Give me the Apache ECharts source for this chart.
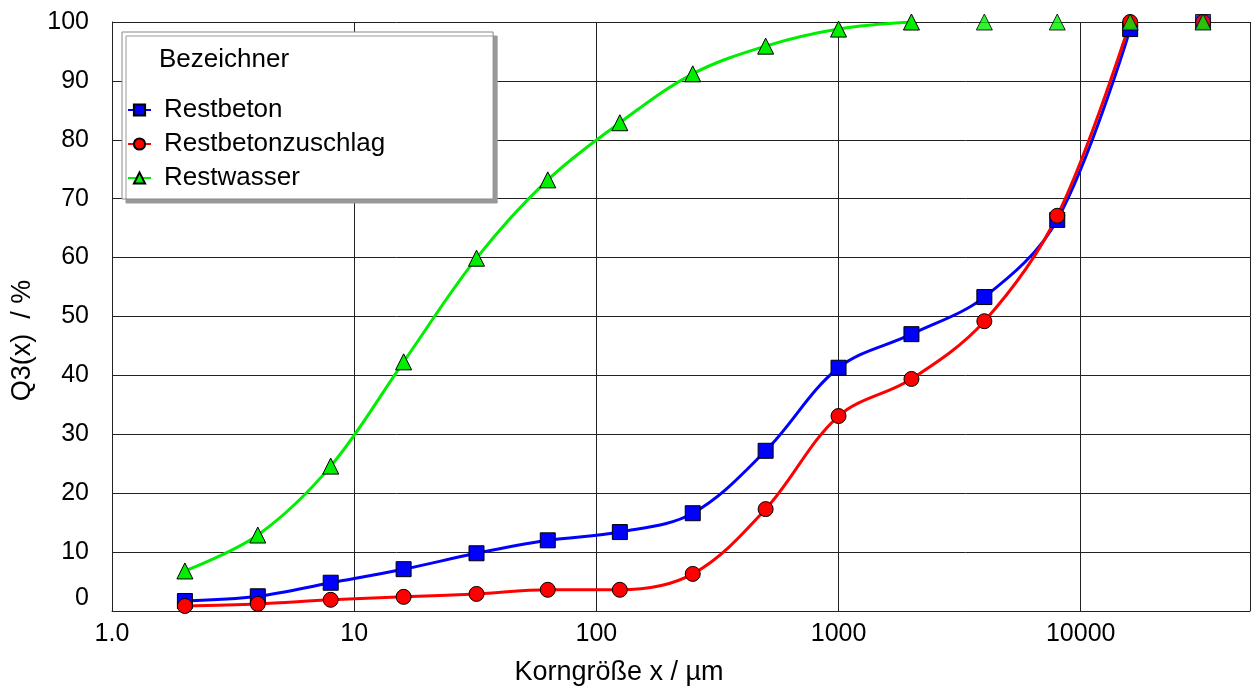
<!DOCTYPE html>
<html>
<head>
<meta charset="utf-8">
<script src="https://cdn.jsdelivr.net/npm/echarts@6/dist/echarts.min.js"></script>
<style>
  html, body { margin: 0; padding: 0; background: #fff; }
  #chart1 { width: 1252px; height: 686px; }
</style>
</head>
<body>
<div id="chart1"></div>
<script>
// Korngröße in µm (Siebstufen)
const korngroesse = [2, 4, 8, 16, 32, 63, 125, 250, 500, 1000, 2000, 4000, 8000, 16000, 32000];
const restbeton = [1.7, 2.5, 4.8, 7.1, 9.8, 12.0, 13.4, 16.6, 27.2, 41.3, 47.0, 53.3, 66.4, 98.8, 100];
const restbetonzuschlag = [0.85, 1.2, 1.9, 2.4, 2.9, 3.6, 3.6, 6.3, 17.3, 33.1, 39.4, 49.2, 67.1, 100, 100];
const restwasser = [6.8, 12.9, 24.6, 42.3, 59.9, 73.2, 82.9, 91.2, 95.9, 98.8, 100, 100, 100, 100, 100];
const yTicks = [0, 10, 20, 30, 40, 50, 60, 70, 80, 90, 100];

// letzter Index, bis zu dem die Linie gezeichnet wird
const lineEnd = { Restbeton: 13, Restbetonzuschlag: 13, Restwasser: 10 };

const chartDom = document.getElementById('chart1');
const myChart = echarts.init(chartDom);

const FONT = '"Liberation Sans", Arial, sans-serif';

const defs = [
    { name: 'Restbeton', values: restbeton, color: '#0000ff', symbol: 'rect', size: 15 },
    { name: 'Restbetonzuschlag', values: restbetonzuschlag, color: '#ff0000', symbol: 'circle', size: 15 },
    { name: 'Restwasser', values: restwasser, color: '#00ee00', symbol: 'triangle', size: 16 }
];

const series = [];
defs.forEach(d => {
    const pts = korngroesse.map((x, i) => [x, d.values[i]]);
    const end = lineEnd[d.name];
    const marker = {
        color: d.color,
        borderColor: '#000',
        borderWidth: 1
    };
    series.push({
        name: d.name,
        type: 'line',
        data: pts.slice(0, end + 1),
        smooth: 0.35,
        symbol: d.symbol,
        symbolSize: d.size,
        showAllSymbol: true,
        lineStyle: { color: d.color, width: 3 },
        itemStyle: marker,
        z: 3
    });
    // restliche Punkte ohne Verbindungslinie
    series.push({
        name: d.name,
        type: 'scatter',
        data: pts.slice(end + 1),
        symbol: d.symbol,
        symbolSize: d.size,
        itemStyle: marker,
        z: 3
    });
});

const option = {
    backgroundColor: '#fff',
    animation: false,
    grid: { left: 112, right: 2, top: 22, bottom: 75, outerBoundsMode: 'none' },
    xAxis: {
        type: 'log',
        logBase: 10,
        min: 1,
        max: 50000,
        name: 'Korngröße x / µm',
        nameLocation: 'middle',
        nameGap: 48,
        nameTextStyle: { fontFamily: FONT, fontSize: 27, color: '#000', padding: [0, 124, 0, 0] },
        axisLine: { show: true, lineStyle: { color: '#222', width: 1 } },
        axisTick: { show: false },
        axisLabel: {
            fontFamily: FONT,
            fontSize: 25,
            color: '#000',
            margin: 11,
            formatter: v => {
                if (v === 1) return '1.0';
                const lg = Math.log10(v);
                return Math.abs(lg - Math.round(lg)) < 1e-6 ? String(v) : '';
            }
        },
        splitLine: { show: true, lineStyle: { color: '#222', width: 1 } }
    },
    yAxis: {
        type: 'value',
        min: yTicks[0],
        max: yTicks[yTicks.length - 1],
        interval: 10,
        name: 'Q3(x)  / %',
        nameLocation: 'middle',
        nameGap: 76,
        nameTextStyle: { fontFamily: FONT, fontSize: 27, color: '#000', padding: [0, 48, 0, 0] },
        axisLine: { show: true, lineStyle: { color: '#222', width: 1 } },
        axisTick: { show: false },
        axisLabel: {
            fontFamily: FONT,
            fontSize: 25,
            color: '#000',
            margin: 23,
            formatter: v => v === 0 ? '{z|0}' : String(v),
            rich: { z: { fontFamily: FONT, fontSize: 25, color: '#000', padding: [0, 0, 26, 0] } }
        },
        splitLine: { show: true, lineStyle: { color: '#222', width: 1 } }
    },
    legend: {
        data: defs.map(d => d.name),
        orient: 'vertical',
        left: 122,
        top: 32,
        padding: [65, 108, 8, 5],
        itemGap: 8,
        itemWidth: 23,
        itemHeight: 14,
        backgroundColor: '#fff',
        borderColor: '#888',
        borderWidth: 1,
        shadowColor: '#999',
        shadowBlur: 0,
        shadowOffsetX: 4,
        shadowOffsetY: 4,
        textStyle: { fontFamily: FONT, fontSize: 26, color: '#000', lineHeight: 24, padding: [0, 0, 0, 8] }
    },
    graphic: [
        {
            type: 'text',
            left: 159,
            top: 47,
            z: 100,
            style: { text: 'Bezeichner', font: '26px ' + FONT, fill: '#000' }
        }
    ],
    series: series
};

myChart.setOption(option);

window.addEventListener('resize', () => {
    myChart.resize();
});
</script>
</body>
</html>
